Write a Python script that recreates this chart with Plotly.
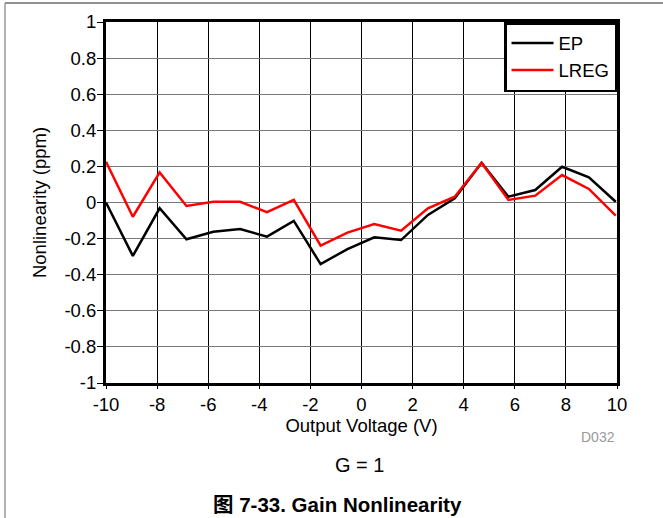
import plotly.graph_objects as go

# Output voltage sweep (V)
output_voltage = [-10, -8.95, -7.9, -6.85, -5.8, -4.75, -3.7, -2.65, -1.6, -0.55,
                  0.5, 1.55, 2.6, 3.65, 4.7, 5.75, 6.8, 7.85, 8.9, 9.95]

# Gain nonlinearity (ppm), endpoint method
ep = [0.0, -0.296, -0.032, -0.204, -0.162, -0.147, -0.189, -0.102, -0.341, -0.258,
      -0.193, -0.208, -0.069, 0.023, 0.22, 0.032, 0.069, 0.198, 0.14, 0.004]

# Gain nonlinearity (ppm), linear regression method
lreg = [0.226, -0.079, 0.167, -0.019, 0.004, 0.004, -0.054, 0.014, -0.239, -0.167,
        -0.119, -0.156, -0.032, 0.032, 0.22, 0.014, 0.038, 0.152, 0.075, -0.073]

x_ticks = [-10, -8, -6, -4, -2, 0, 2, 4, 6, 8, 10]
y_ticks = [-1, -0.8, -0.6, -0.4, -0.2, 0, 0.2, 0.4, 0.6, 0.8, 1]

FONT = "Liberation Sans, Arial, Noto Sans CJK SC, sans-serif"
FS = 18.5

fig = go.Figure()
fig.add_trace(go.Scatter(x=output_voltage, y=ep, mode="lines", name="EP",
                         line=dict(color="#000000", width=2.5)))
fig.add_trace(go.Scatter(x=output_voltage, y=lreg, mode="lines", name="LREG",
                         line=dict(color="#ff0000", width=2.5)))

# plot area in pixels: x 106..617, y 22..383
L, R, T, B = 106, 617, 22, 383
W, H = R - L, B - T


def px(x):
    return (x - L) / W


def py(y):
    return (B - y) / H


fig.update_layout(
    width=663, height=518,
    margin=dict(l=L, r=663 - R, t=T, b=518 - B),
    paper_bgcolor="white", plot_bgcolor="white",
    font=dict(family=FONT, size=FS, color="#000000"),
    showlegend=True,
    legend=dict(x=1, y=1, xanchor="right", yanchor="top",
                bgcolor="white", bordercolor="#000000", borderwidth=2.5,
                font=dict(size=FS), tracegroupgap=0,
                itemwidth=42),
    xaxis=dict(range=[-10, 10], tickvals=x_ticks, ticktext=[str(v) for v in x_ticks],
               showgrid=True, gridcolor="#000000", gridwidth=1,
               zeroline=False, showline=True, linecolor="#000000", linewidth=3,
               mirror=True, ticks="outside", ticklen=3, tickcolor="#000000",
               ticklabelstandoff=0, tickfont=dict(size=FS),
               title=dict(text="Output Voltage (V)", font=dict(size=FS), standoff=0)),
    yaxis=dict(range=[-1, 1], tickvals=y_ticks,
               ticktext=["-1", "-0.8", "-0.6", "-0.4", "-0.2", "0",
                         "0.2", "0.4", "0.6", "0.8", "1"],
               showgrid=True, gridcolor="#7a7a7a", gridwidth=1,
               zeroline=False, showline=True, linecolor="#000000", linewidth=3,
               mirror=True, ticks="outside", ticklen=6, tickcolor="#000000",
               ticklabelstandoff=-3, tickfont=dict(size=FS),
               title=dict(text="Nonlinearity (ppm)", font=dict(size=FS), standoff=13)),
    annotations=[
        dict(text="D032", x=px(598), y=py(437), xref="paper", yref="paper",
             xanchor="center", yanchor="middle",
             showarrow=False, font=dict(size=14, color="#9a9a9a")),
        dict(text="G = 1", x=px(359), y=py(465), xref="paper", yref="paper",
             xanchor="center", yanchor="middle",
             showarrow=False, font=dict(size=20)),
        dict(text="<b>图 7-33. Gain Nonlinearity</b>", x=px(337), y=py(505),
             xref="paper", yref="paper", xanchor="center", yanchor="middle",
             showarrow=False, font=dict(size=20.5)),
    ],
    shapes=[
        # page frame lines
        dict(type="line", xref="paper", yref="paper",
             x0=px(5), x1=px(663), y0=py(3), y1=py(3),
             line=dict(color="#222222", width=1)),
        dict(type="line", xref="paper", yref="paper",
             x0=px(5), x1=px(5), y0=py(3), y1=py(518),
             line=dict(color="#999999", width=1.5)),
    ],
)

fig.write_html("out.html")
